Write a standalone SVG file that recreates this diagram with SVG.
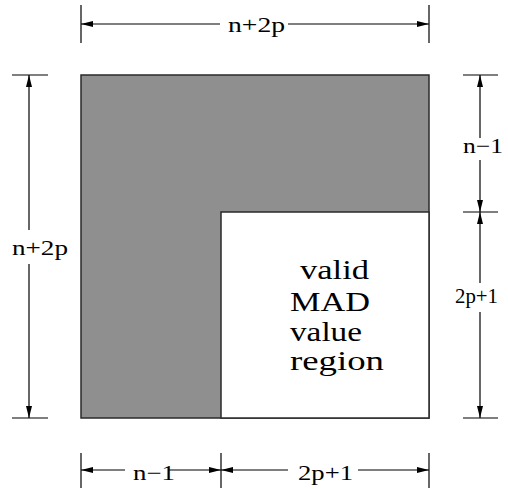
<svg xmlns="http://www.w3.org/2000/svg" width="508" height="489" viewBox="0 0 508 489">
<defs>
<style>
.dim{stroke:#000;stroke-width:1.2;fill:none}
.arr{stroke:#000;stroke-width:1.2;fill:none;marker-end:url(#ah)}
.lbl{font-size:21px;fill:#000}
.big{font-size:28px;fill:#000}
</style>
<marker id="ah" viewBox="0 0 12 6" refX="12" refY="3" markerWidth="12" markerHeight="6" markerUnits="userSpaceOnUse" orient="auto">
<path d="M0,0 L12,3 L0,6 Z" fill="#000"/>
</marker>
</defs>
<g id="matrix">
<rect x="81" y="75" width="348" height="343" fill="#8f8f8f" stroke="#2a2a2a" stroke-width="1.5"/>
</g>
<g id="valid-region" font-family="Times New Roman, Times, Liberation Serif, Tinos, serif">
<rect x="221" y="212" width="208" height="206" fill="#fff" stroke="#2a2a2a" stroke-width="1.5"/>
<text class="big" x="300" y="279" textLength="69" lengthAdjust="spacingAndGlyphs">valid</text>
<text class="big" x="290" y="311" textLength="80" lengthAdjust="spacingAndGlyphs">MAD</text>
<text class="big" x="290" y="341" textLength="72" lengthAdjust="spacingAndGlyphs">value</text>
<text class="big" x="290" y="370" textLength="94" lengthAdjust="spacingAndGlyphs">region</text>
</g>
<g id="connectors">
<line class="dim" x1="81" y1="5" x2="81" y2="43"/>
<line class="dim" x1="429" y1="5" x2="429" y2="43"/>
<line class="arr" x1="220" y1="24" x2="81" y2="24"/>
<line class="arr" x1="288" y1="24" x2="429" y2="24"/>
<line class="dim" x1="12" y1="75" x2="48" y2="75"/>
<line class="dim" x1="12" y1="418" x2="48" y2="418"/>
<line class="arr" x1="29" y1="230" x2="29" y2="75"/>
<line class="arr" x1="29" y1="264" x2="29" y2="418"/>
<line class="dim" x1="463" y1="75" x2="498" y2="75"/>
<line class="dim" x1="463" y1="212" x2="498" y2="212"/>
<line class="dim" x1="463" y1="418" x2="498" y2="418"/>
<line class="arr" x1="480" y1="138" x2="480" y2="75"/>
<line class="arr" x1="480" y1="160" x2="480" y2="212"/>
<line class="arr" x1="480" y1="283" x2="480" y2="212"/>
<line class="arr" x1="480" y1="312" x2="480" y2="418"/>
<line class="dim" x1="81" y1="453" x2="81" y2="488"/>
<line class="dim" x1="221" y1="453" x2="221" y2="488"/>
<line class="dim" x1="429" y1="453" x2="429" y2="488"/>
<line class="arr" x1="125" y1="470" x2="81" y2="470"/>
<line class="arr" x1="168" y1="470" x2="221" y2="470"/>
<line class="arr" x1="288" y1="470" x2="221" y2="470"/>
<line class="arr" x1="358" y1="470" x2="429" y2="470"/>
</g>
<g id="labels" font-family="Times New Roman, Times, Liberation Serif, Tinos, serif">
<text class="lbl" x="228" y="32" textLength="57" lengthAdjust="spacingAndGlyphs">n+2p</text>
<text class="lbl" x="12" y="255" textLength="56" lengthAdjust="spacingAndGlyphs">n+2p</text>
<text class="lbl" x="463" y="153" textLength="40" lengthAdjust="spacingAndGlyphs">n−1</text>
<text class="lbl" x="455" y="303" textLength="43" lengthAdjust="spacingAndGlyphs">2p+1</text>
<text class="lbl" x="133" y="480" textLength="42" lengthAdjust="spacingAndGlyphs">n−1</text>
<text class="lbl" x="298" y="480" textLength="55" lengthAdjust="spacingAndGlyphs">2p+1</text>
</g>
</svg>
